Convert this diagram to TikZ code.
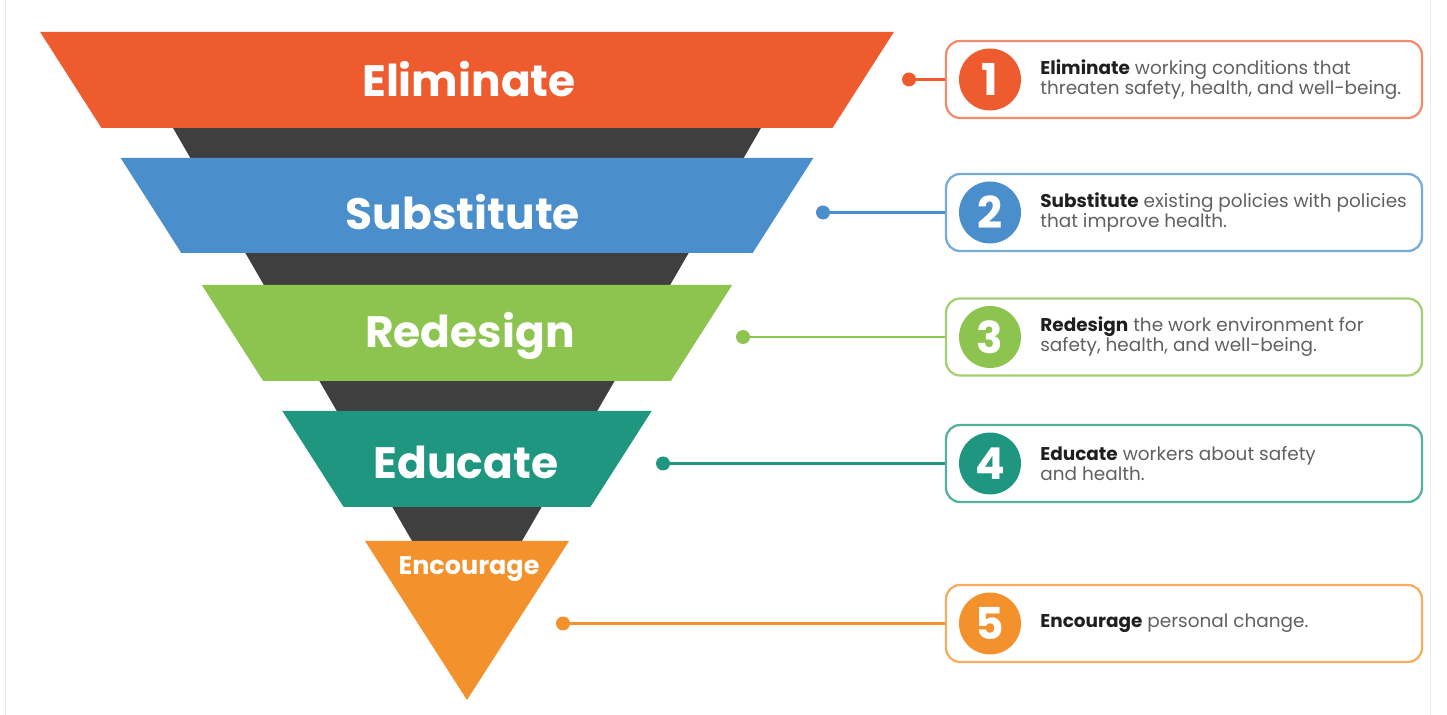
\documentclass[tikz,border=0pt]{standalone}
\usepackage{fontspec}
\setmainfont{Poppins}
\definecolor{elim}{HTML}{EE5B2F}
\definecolor{subst}{HTML}{4A8FCB}
\definecolor{redes}{HTML}{8DC44F}
\definecolor{educ}{HTML}{1E9680}
\definecolor{encour}{HTML}{F3912D}
\definecolor{funnel}{HTML}{3F3F3F}
\definecolor{txt}{HTML}{606060}
\definecolor{ink}{HTML}{1F1F1F}
\begin{document}
\begin{tikzpicture}
  [x=0.02cm,y=-0.02cm,
   band/.style={text=white,font=\bfseries\fontsize{25}{30}\selectfont},
   num/.style={circle,minimum size=1.24cm,inner sep=0pt,text=white,
     font=\bfseries\fontsize{25}{25}\selectfont},
   infobox/.style={draw,line width=1.3pt,rounded corners=0.28cm,
     minimum width=9.52cm,minimum height=1.54cm},
   info/.style={anchor=west,align=left,text=txt,inner sep=0pt,
     font=\fontsize{10.5}{11.3}\selectfont},
   dot/.style={circle,inner sep=0pt,minimum size=0.28cm}]
  \useasboundingbox (0,0) rectangle (1447,715);
  \draw[black!8] (5,-20) -- (5,740) (1430,-20) -- (1430,740);

  % dark funnel behind the bands
  \fill[funnel] (173,128) -- (761,128) -- (467,636) -- cycle;
  \foreach \t/\b/\c in {32/128/elim,158/253/subst,285/381/redes,411/507/educ}
    \fill[\c] ({467-0.639*(700-\t)},\t) -- ({467+0.639*(700-\t)},\t)
      -- ({467+0.639*(700-\b)},\b) -- ({467-0.639*(700-\b)},\b) -- cycle;
  \fill[encour] (365,541) -- (569,541) -- (467,700) -- cycle;

  \node[band] (l1) at (469,79)  {Eliminate};
  \node[band] (l2) at (463,212) {Substitute};
  \node[band] (l3) at (470,336) {Redesign};
  \node[band] (l4) at (466,462) {Educate};
  \node[band,font=\bfseries\fontsize{14.5}{18}\selectfont] (l5) at (469,569) {Encourage};

  % steps on the right
  \node[infobox,draw=elim!70]   (b1) at (1184,79.5)  {};
  \node[infobox,draw=subst!75]  (b2) at (1184,212.5) {};
  \node[infobox,draw=redes!80]  (b3) at (1184,337)   {};
  \node[infobox,draw=educ!75]   (b4) at (1184,463.5) {};
  \node[infobox,draw=encour!75] (b5) at (1184,623.5) {};

  \node[num,fill=elim]   (n1) at (990,79.5)  {1};
  \node[num,fill=subst]  (n2) at (990,212.5) {2};
  \node[num,fill=redes]  (n3) at (990,337)   {3};
  \node[num,fill=educ]   (n4) at (990,463.5) {4};
  \node[num,fill=encour] (n5) at (990,623.5) {5};

  \node[info] (t1) at (1040,79.5)
    {\textcolor{ink}{\bfseries Eliminate} working conditions that\\threaten safety, health, and well-being.};
  \node[info] (t2) at (1040,212.5)
    {\textcolor{ink}{\bfseries Substitute} existing policies with policies\\that improve health.};
  \node[info] (t3) at (1040,337)
    {\textcolor{ink}{\bfseries Redesign} the work environment for\\safety, health, and well-being.};
  \node[info] (t4) at (1040,463.5)
    {\textcolor{ink}{\bfseries Educate} workers about safety\\and health.};
  \node[info] (t5) at (1040,623.5)
    {\textcolor{ink}{\bfseries Encourage} personal change.};

  \node[dot,fill=elim]   (d1) at (909,79.5)  {};
  \node[dot,fill=subst]  (d2) at (823,212.5) {};
  \node[dot,fill=redes]  (d3) at (743,337)   {};
  \node[dot,fill=educ]   (d4) at (663,463.5) {};
  \node[dot,fill=encour] (d5) at (563,623.5) {};

  \foreach \i/\c in {1/elim,2/subst,3/redes,4/educ,5/encour}
    \draw[\c,line width=1.5pt] (d\i) -- (b\i);

\end{tikzpicture}
\end{document}
